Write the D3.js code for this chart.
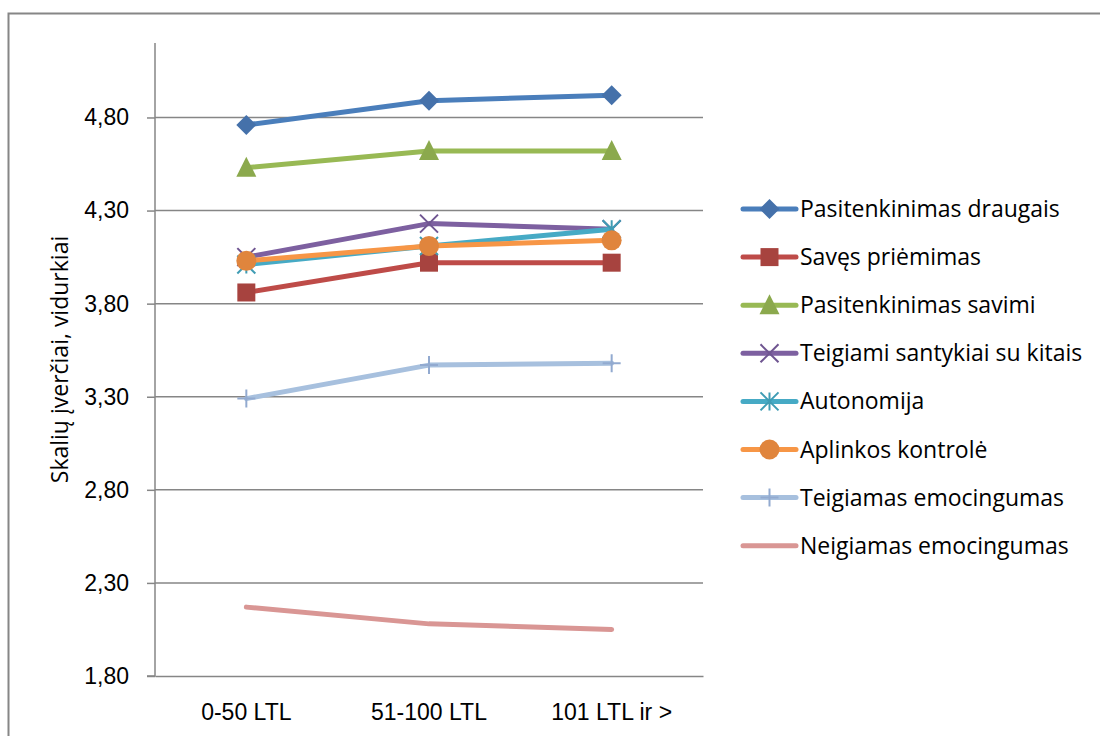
<!DOCTYPE html>
<html><head><meta charset="utf-8">
<script src="https://cdn.jsdelivr.net/npm/d3@7"></script>
<style>body{margin:0;background:#fff}svg{display:block;font-family:"Open Sans",sans-serif}</style>
</head><body>
<svg id="c" width="1100" height="736"></svg>
<script>
const categories = ["0-50 LTL", "51-100 LTL", "101 LTL ir >"];
const seriesNames = ["Pasitenkinimas draugais","Savęs priėmimas","Pasitenkinimas savimi","Teigiami santykiai su kitais","Autonomija","Aplinkos kontrolė","Teigiamas emocingumas","Neigiamas emocingumas"];
const pasitenkinimasDraugais = [4.76, 4.89, 4.92];
const savesPriemimas = [3.86, 4.02, 4.02];
const pasitenkinimasSavimi = [4.53, 4.62, 4.62];
const teigiamiSantykiai = [4.05, 4.23, 4.20];
const autonomija = [4.01, 4.11, 4.20];
const aplinkosKontrole = [4.03, 4.11, 4.14];
const teigiamasEmocingumas = [3.29, 3.47, 3.48];
const neigiamasEmocingumas = [2.17, 2.08, 2.05];
const yTicks = [1.80, 2.30, 2.80, 3.30, 3.80, 4.30, 4.80];
const yTitle = "Skalių įverčiai, vidurkiai";

const seriesValues = [pasitenkinimasDraugais, savesPriemimas, pasitenkinimasSavimi, teigiamiSantykiai, autonomija, aplinkosKontrole, teigiamasEmocingumas, neigiamasEmocingumas];
const colors = ["#4A7EBB","#BE4B48","#98B954","#7D60A0","#46AAC5","#F79646","#A7C0DE","#D99694"];
const markerColors = ["#4571AA","#A7433F","#8BA94D","#6F5591","#3F9CB4","#E0853D","#92AAD0","#D99694"];
const markers = ["diamond","square","triangle","x","star","circle","plus","none"];

const svg = d3.select("#c");
const pLeft = 155, pRight = 703, pTop = 43, pBottom = 676;
const fs = 23;

svg.append("rect").attr("x",8.5).attr("y",13.5).attr("width",1100).attr("height",800)
  .attr("fill","none").attr("stroke","#868686").attr("stroke-width",2);

const x = d3.scaleBand().domain(categories).range([pLeft, pRight]);
const y = d3.scaleLinear().domain([1.8, 5.2]).range([pBottom, pTop]);

svg.append("g").selectAll("line").data(yTicks.slice(1)).join("line")
  .attr("x1", pLeft).attr("x2", pRight).attr("y1", d=>y(d)).attr("y2", d=>y(d))
  .attr("stroke","#868686").attr("stroke-width",1.5);

const yAxis = d3.axisLeft(y).tickValues(yTicks).tickSize(8).tickPadding(18)
  .tickFormat(d => d3.format(".2f")(d).replace(".", ","));
const gy = svg.append("g").attr("transform",`translate(${pLeft},0)`).call(yAxis);
gy.select(".domain").attr("stroke","#868686").attr("stroke-width",1.5).attr("d",`M-8,${pBottom}H0V${pTop}`);
gy.selectAll(".tick line").attr("stroke","#868686").attr("stroke-width",1.5);
gy.selectAll(".tick text").attr("font-size",fs).attr("fill","#000").attr("font-family","inherit");

const xAxis = d3.axisBottom(x).tickSize(0).tickPadding(28);
const gx = svg.append("g").attr("transform",`translate(0,${pBottom})`).call(xAxis);
gx.select(".domain").attr("stroke","#868686").attr("stroke-width",1.5);
gx.selectAll(".tick text").attr("font-size",fs).attr("fill","#000").attr("font-family","inherit");

svg.append("text").attr("transform",`translate(68,${(pTop+pBottom)/2}) rotate(-90)`)
  .attr("text-anchor","middle").attr("font-size",fs).text(yTitle);

function drawMarker(g, type, color, cx, cy) {
  const s = 9;
  if (type === "diamond") g.append("path").attr("d",`M${cx},${cy-s-1}L${cx+s+1},${cy}L${cx},${cy+s+1}L${cx-s-1},${cy}Z`).attr("fill",color);
  else if (type === "square") g.append("rect").attr("x",cx-s).attr("y",cy-s).attr("width",2*s).attr("height",2*s).attr("fill",color);
  else if (type === "triangle") g.append("path").attr("d",`M${cx},${cy-s-2}L${cx+s+1},${cy+s}L${cx-s-1},${cy+s}Z`).attr("fill",color);
  else if (type === "circle") g.append("circle").attr("cx",cx).attr("cy",cy).attr("r",s+1).attr("fill",color);
  else if (type === "x") g.append("path").attr("d",`M${cx-s},${cy-s}L${cx+s},${cy+s}M${cx-s},${cy+s}L${cx+s},${cy-s}`).attr("stroke",color).attr("stroke-width",2);
  else if (type === "star") g.append("path").attr("d",`M${cx-s},${cy-s}L${cx+s},${cy+s}M${cx-s},${cy+s}L${cx+s},${cy-s}M${cx},${cy-s}L${cx},${cy+s}`).attr("stroke",color).attr("stroke-width",2);
  else if (type === "plus") g.append("path").attr("d",`M${cx},${cy-s}L${cx},${cy+s}M${cx-s},${cy}L${cx+s},${cy}`).attr("stroke",color).attr("stroke-width",2);
}

const line = d3.line().x((d,i)=>x(categories[i]) + x.bandwidth()/2).y(d=>y(d));

const drawOrder = [7,6,0,2,1,3,4,5];
drawOrder.forEach(si => {
  const g = svg.append("g");
  g.append("path").attr("d", line(seriesValues[si])).attr("fill","none")
    .attr("stroke", colors[si]).attr("stroke-width",5).attr("stroke-linejoin","round").attr("stroke-linecap","round");
  seriesValues[si].forEach((v,i) => drawMarker(g, markers[si], markerColors[si], x(categories[i]) + x.bandwidth()/2, y(v)));
});

const leg = svg.append("g");
seriesNames.forEach((name, i) => {
  const ly = 209 + i*48.1;
  const g = leg.append("g");
  g.append("line").attr("x1",743).attr("x2",796).attr("y1",ly).attr("y2",ly)
    .attr("stroke",colors[i]).attr("stroke-width",5).attr("stroke-linecap","round");
  drawMarker(g, markers[i], markerColors[i], 769.5, ly);
  g.append("text").attr("x",800).attr("y",ly).attr("dy","0.35em").attr("font-size",fs).text(name);
});
</script>
</body></html>
